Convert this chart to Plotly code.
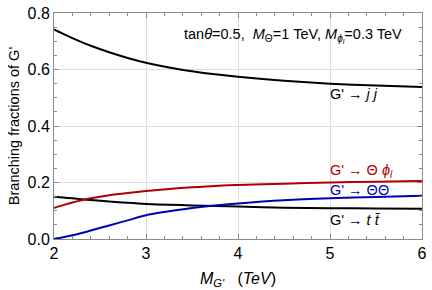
import plotly.graph_objects as go

mass = [2.0, 2.1, 2.2, 2.3, 2.4, 2.6, 2.8, 3.0, 3.25, 3.5, 3.75, 4.0, 4.5, 5.0, 5.5, 6.0]
br_jj = [0.742, 0.726, 0.711, 0.697, 0.684, 0.661, 0.641, 0.624, 0.607, 0.594, 0.583, 0.574, 0.560, 0.550, 0.543, 0.538]
br_tt = [0.150, 0.147, 0.144, 0.141, 0.138, 0.133, 0.128, 0.124, 0.121, 0.119, 0.117, 0.115, 0.111, 0.109, 0.108, 0.107]
br_thphi = [0.110, 0.120, 0.129, 0.137, 0.144, 0.155, 0.163, 0.170, 0.177, 0.183, 0.188, 0.191, 0.196, 0.200, 0.203, 0.205]
br_thth = [0.000, 0.006, 0.013, 0.021, 0.030, 0.048, 0.066, 0.084, 0.098, 0.110, 0.119, 0.126, 0.137, 0.144, 0.149, 0.153]

FONT = "Liberation Sans, Arial, sans-serif"
BLACK = "#000000"
RED = "#b00000"
BLUE = "#0000b4"
FRAME = "#8a8a8a"

fig = go.Figure()
for ys, col in [(br_jj, BLACK), (br_tt, BLACK), (br_thphi, RED), (br_thth, BLUE)]:
    fig.add_trace(go.Scatter(x=mass, y=ys, mode="lines",
                             line=dict(color=col, width=2, shape="spline", smoothing=0.8),
                             showlegend=False, hoverinfo="skip"))

axis_common = dict(
    showline=True, linecolor=FRAME, linewidth=1, mirror="allticks",
    ticks="inside", ticklen=5, tickwidth=1, tickcolor=FRAME,
    showgrid=True, gridcolor="#dddddd", gridwidth=1, zeroline=False,
    tickfont=dict(family=FONT, size=16, color="black"),
    ticklabeloverflow="allow",
)

fig.update_xaxes(range=[2, 6], dtick=1, tick0=2,
                 minor=dict(ticks="inside", ticklen=3, dtick=0.2, tickcolor=FRAME, showgrid=False),
                 title=dict(text="<i>M</i><sub><i>G'</i></sub>   (<i>TeV</i>)",
                            font=dict(family=FONT, size=16, color="black"), standoff=11),
                 **axis_common)
fig.update_yaxes(range=[0, 0.8], dtick=0.2, tick0=0, tickformat=".1f",
                 minor=dict(ticks="inside", ticklen=3, dtick=0.05, tickcolor=FRAME, showgrid=False),
                 title=dict(text="Branching fractions of G'",
                            font=dict(family=FONT, size=14.5, color="black"), standoff=4),
                 **axis_common)

ann_font = dict(family=FONT, size=14.5)
fig.add_annotation(x=4.6, y=0.72, xref="x", yref="y", showarrow=False,
                   text="tan<i>θ</i>=0.5,  <i>M</i><sub>Θ</sub>=1 TeV, <i>M</i><sub><i>ϕ</i><sub><i>l</i></sub></sub>=0.3 TeV",
                   font=dict(color=BLACK, **ann_font))
fig.add_annotation(x=4.98, y=0.515, xref="x", yref="y", xanchor="left", showarrow=False,
                   text="G' → <i>j j</i>", font=dict(color=BLACK, **ann_font))
fig.add_annotation(x=4.98, y=0.24, xref="x", yref="y", xanchor="left", showarrow=False,
                   text="G' → Θ <i>ϕ</i><sub><i>l</i></sub>", font=dict(color=RED, **ann_font))
fig.add_annotation(x=4.98, y=0.175, xref="x", yref="y", xanchor="left", showarrow=False,
                   text="G' → ΘΘ", font=dict(color=BLUE, **ann_font))
fig.add_annotation(x=4.98, y=0.066, xref="x", yref="y", xanchor="left", showarrow=False,
                   text="G' → <i>t</i> <i>t̄</i>", font=dict(color=BLACK, **ann_font))

fig.update_layout(width=432, height=290, margin=dict(l=54, r=5, t=9, b=51),
                  paper_bgcolor="white", plot_bgcolor="white",
                  font=dict(family=FONT))

fig.write_html("out.html", config={"displayModeBar": False},
               post_script="document.body.style.margin='0';document.body.style.overflow='hidden';")
